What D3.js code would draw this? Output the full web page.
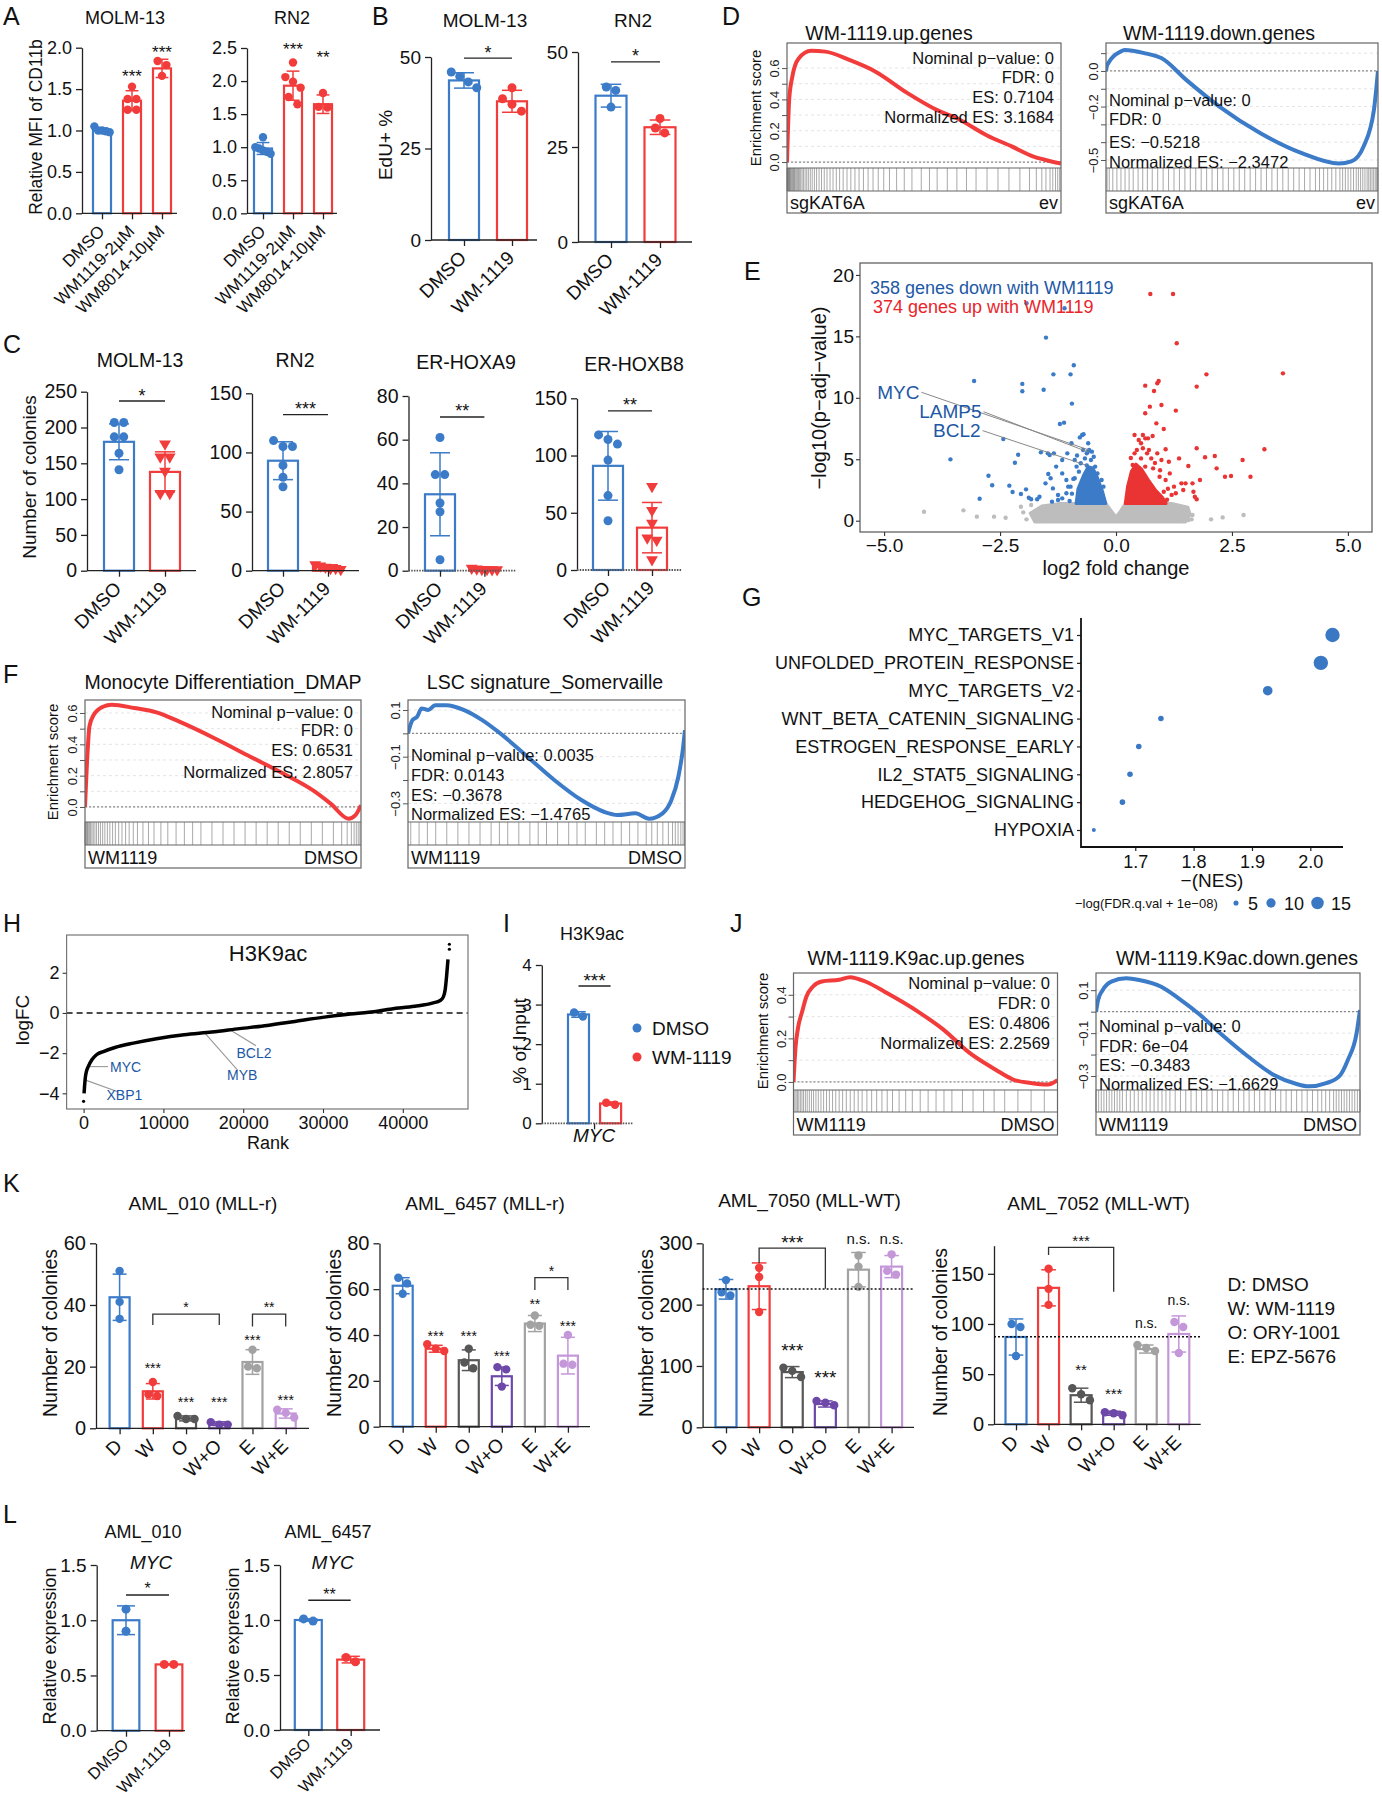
<!DOCTYPE html>
<html>
<head>
<meta charset="utf-8">
<script src="https://cdn.jsdelivr.net/npm/d3@7"></script>
<style>
  body { margin: 0; background: #fff; }
  svg { display: block; }
</style>
</head>
<body>
<script>
// ---------------- data ----------------
// A: relative MFI of CD11b
var aCats = ["DMSO", "WM1119-2µM", "WM8014-10µM"];
var aMolmMean = [1.0, 1.36, 1.75], aMolmSd = [0.03, 0.12, 0.11];
var aMolmPts = [[1.05, 1.0, 0.99, 0.98, 1.0], [1.53, 1.38, 1.38, 1.25, 1.25], [1.84, 1.79, 1.66]];
var aRn2Mean = [0.98, 1.93, 1.65], aRn2Sd = [0.09, 0.22, 0.14];
var aRn2Pts = [[1.15, 1.0, 0.98, 0.95, 0.93, 0.9], [2.28, 2.06, 1.99, 1.9, 1.76, 1.65], [1.82, 1.61, 1.6]];

// B: EdU+ %
var dwCats = ["DMSO", "WM-1119"];
var bMolmMean = [43.6, 37.9], bMolmSd = [2.1, 3.0], bMolmPts = [[45.9, 44.7, 43.2, 41.6], [41.6, 38.6, 37.1, 35.2]];
var bRn2Mean = [38.5, 30.2], bRn2Sd = [3.0, 1.9], bRn2Pts = [[40.8, 39.9, 35.5], [32.5, 30, 28.7]];

// C: colonies
var cMolmMean = [180, 138], cMolmSd = [25, 28], cMolmPts = [[207, 207, 187, 187, 164, 141], [177, 159, 159, 139, 108, 108]];
var cRn2Mean = [93, 3], cRn2Sd = [16, 2], cRn2Pts = [[110, 105, 105, 89, 79, 71], [5, 4, 3, 2, 2, 1]];
var cA9Mean = [35, 1], cA9Sd = [19, 0.5], cA9Pts = [[61, 44, 44, 31, 27, 5], [1.2, 0.8, 0.6, 0.6, 0.5, 0.5]];
var cB8Mean = [91, 37], cB8Sd = [30, 22], cB8Pts = [[118, 114, 110, 96, 65, 43], [73, 52, 41, 28, 26, 9]];

// D / F / J: GSEA running enrichment scores (rank fraction, ES) and hits
var dUpX = [0, 0.008, 0.02, 0.042, 0.088, 0.14, 0.23, 0.32, 0.44, 0.55, 0.62, 0.73, 0.82, 0.9, 0.94, 1.0];
var dUpES = [0, 0.40, 0.55, 0.66, 0.71, 0.705, 0.65, 0.58, 0.44, 0.33, 0.28, 0.17, 0.10, 0.035, 0.015, -0.01];
var dDnX = [0, 0.0045, 0.053, 0.068, 0.144, 0.205, 0.295, 0.417, 0.568, 0.72, 0.856, 0.902, 0.947, 0.985, 1.0];
var dDnES = [0, 0.034, 0.108, 0.118, 0.099, 0.071, -0.05, -0.2, -0.35, -0.462, -0.52, -0.508, -0.424, -0.219, 0];
var fLX = [0, 0.0097, 0.016, 0.032, 0.065, 0.097, 0.178, 0.259, 0.34, 0.469, 0.599, 0.728, 0.825, 0.89, 0.955, 0.979, 1.0];
var fLES = [0, 0.364, 0.514, 0.589, 0.64, 0.653, 0.632, 0.604, 0.546, 0.439, 0.321, 0.204, 0.107, 0.021, -0.075, -0.054, 0.011];
var fRX = [0, 0.016, 0.033, 0.049, 0.073, 0.098, 0.138, 0.203, 0.268, 0.333, 0.431, 0.528, 0.626, 0.707, 0.756, 0.821, 0.87, 0.919, 0.951, 0.976, 0.992, 1.0];
var fRES = [0, 0.057, 0.071, 0.107, 0.1, 0.121, 0.121, 0.1, 0.057, 0, -0.1, -0.2, -0.286, -0.336, -0.35, -0.343, -0.366, -0.343, -0.286, -0.186, -0.071, 0.014];
var jLX = [0, 0.008, 0.016, 0.033, 0.049, 0.074, 0.107, 0.173, 0.214, 0.272, 0.354, 0.47, 0.568, 0.667, 0.766, 0.832, 0.898, 0.964, 1.0];
var jLES = [0, 0.163, 0.24, 0.324, 0.392, 0.438, 0.461, 0.469, 0.481, 0.461, 0.408, 0.324, 0.24, 0.133, 0.056, 0.011, -0.005, -0.012, 0.008];
var jRX = [0, 0.008, 0.025, 0.058, 0.115, 0.164, 0.247, 0.313, 0.395, 0.477, 0.576, 0.674, 0.757, 0.806, 0.872, 0.921, 0.954, 0.987, 1.0];
var jRES = [0, 0.054, 0.1, 0.14, 0.155, 0.147, 0.116, 0.062, -0.016, -0.108, -0.209, -0.295, -0.336, -0.348, -0.333, -0.302, -0.225, -0.101, 0.008];

var dUpHits = [0,.002,.004,.006,.008,.01,.012,.015,.018,.021,.024,.027,.03,.034,.038,.042,.046,.05,.055,.06,.066,.072,.078,.085,.092,.1,.108,.117,.126,.136,.146,.157,.168,.18,.192,.205,.219,.233,.248,.263,.279,.296,.314,.333,.353,.374,.4,.428,.456,.49,.52,.548,.585,.62,.655,.69,.73,.77,.81,.85,.885,.91,.93,.945,.96,.97,.98,.988,.995];
var dDnHits = [.004,.012,.025,.04,.055,.07,.085,.1,.118,.135,.152,.17,.19,.21,.23,.25,.27,.29,.31,.33,.35,.37,.39,.41,.43,.45,.47,.49,.51,.53,.55,.57,.59,.61,.63,.65,.67,.69,.71,.73,.75,.77,.785,.8,.815,.83,.845,.86,.87,.88,.89,.9,.91,.92,.928,.936,.944,.952,.96,.966,.972,.978,.984,.99,.995,.999];
var fLHits = [0,.003,.006,.009,.012,.016,.02,.025,.03,.036,.042,.049,.056,.064,.072,.081,.09,.1,.11,.122,.134,.147,.16,.175,.19,.21,.23,.25,.275,.3,.33,.36,.39,.42,.46,.5,.54,.58,.62,.66,.7,.74,.78,.82,.86,.9,.93,.95,.965,.975,.983,.99,.996];
var fRHits = [.01,.04,.07,.1,.14,.18,.22,.26,.3,.33,.36,.4,.44,.47,.5,.54,.58,.61,.64,.68,.71,.74,.77,.8,.83,.86,.88,.9,.92,.94,.955,.965,.975,.985,.993,.998];
var jLHits = [0,.005,.01,.015,.02,.026,.032,.038,.045,.052,.06,.068,.076,.085,.094,.104,.114,.125,.136,.148,.16,.173,.186,.2,.215,.23,.245,.26,.278,.296,.315,.335,.355,.375,.4,.425,.45,.48,.51,.54,.57,.6,.64,.68,.72,.76,.8,.85,.9,.95];
var jRHits = [0,.01,.02,.03,.04,.05,.06,.07,.08,.09,.1,.115,.13,.145,.16,.175,.19,.205,.22,.235,.25,.265,.28,.3,.32,.34,.36,.38,.4,.42,.44,.46,.48,.5,.52,.54,.56,.58,.6,.62,.64,.66,.68,.7,.72,.74,.76,.78,.8,.82,.84,.855,.87,.885,.9,.91,.92,.93,.94,.95,.96,.97,.98,.99,1];

// E: volcano (log2FC, -log10 padj)
var eBlue = [[-3.57,4.99],[-3.06,11.37],[-2.94,1.79],[-2.75,3.66],[-2.67,2.88],[-2.43,6.65],[-2.30,2.85],[-2.23,2.33],[-2.18,4.72],[-2.11,5.37],[-2.05,2.17],[-2.02,10.53],[-2.02,11.13],[-1.94,2.55],[-1.93,17.69],[-1.88,1.87],[-1.83,1.74],[-1.56,10.66],[-1.51,14.90],[-1.62,5.56],[-1.47,5.48],[-1.43,5.35],[-1.46,3.80],[-1.41,3.45],[-1.36,2.63],[-1.34,5.48],[-1.25,2.09],[-1.21,7.87],[-1.12,7.98],[-1.11,17.29],[-1.05,5.48],[-0.98,11.91],[-1.35,11.91],[-0.95,9.53],[-0.91,12.65],[-0.96,6.30],[-0.78,6.78],[-0.73,6.97],[-0.70,7.03],[-1.16,3.85],[-1.07,3.31],[-1.03,2.77],[-0.89,4.94],[-0.85,4.40],[-1.16,4.94],[-1.29,4.40],[-1.52,3.04],[-1.65,1.95],[-1.70,1.74],[-0.58,5.75],[-0.61,5.6],[-0.63,4.5],[-0.95,2.2],[-1.0,1.6],[-0.92,3.4],
  [-0.71,5.75],[-0.63,5.48],[-0.52,5.62],[-0.67,5.07],[-0.54,4.94],[-0.76,4.67],[-0.45,4.40],[-0.80,3.99],[-0.40,3.85],[-0.89,3.45],[-0.31,3.31],[-0.98,2.77],[-0.27,2.77],[-1.07,2.23],[-1.16,1.82],[-1.25,1.68],[-1.38,1.55],[-0.48,5.2],[-0.6,6.3],[-0.84,5.3]];
var eRed = [[0.74,18.45],[1.23,18.45],[1.31,14.44],[1.95,11.91],[3.60,11.99],[0.63,10.99],[0.82,10.56],[0.92,11.37],[0.89,11.18],[1.74,10.91],[0.98,9.42],[0.73,9.28],[1.29,8.96],[0.63,8.74],[0.87,7.92],[1.03,7.46],[0.79,6.89],[0.58,6.97],[0.69,6.70],[1.74,5.89],[1.07,5.81],[3.20,5.81],[1.36,5.07],[1.92,5.16],[2.13,5.26],[2.73,4.94],[2.17,4.26],[1.56,4.45],[2.35,3.58],[2.48,3.64],[2.90,3.58],[1.81,3.31],[1.41,3.04],[1.50,3.04],[1.65,3.04],[1.67,2.36],[1.70,1.95],[1.74,1.74],[1.45,2.50],[1.25,2.77],[1.29,2.23],[1.16,3.85],[1.14,4.80],[0.98,4.94],[0.89,5.48],[0.54,6.30],[0.71,5.75],[1.2,2.1],[1.1,1.7],
  [0.40,6.97],[0.49,6.57],[0.45,5.75],[0.40,5.48],[0.54,5.07],[0.63,6.70],[0.67,5.48],[0.76,5.07],[0.36,4.53],[0.49,4.26],[0.63,4.40],[0.80,4.26],[0.94,3.58],[1.07,3.31],[1.03,2.36],[0.32,5.1],[0.58,5.9],[0.84,4.7],[0.95,4.1],[1.12,2.6]];
var eGray = [[-4.14,0.73],[-3.29,0.84],[-3.0,0.33],[-2.63,0.33],[-2.38,0.24],[-2.0,0.68],[-1.93,0.11],[-1.73,0.11],[-1.52,0.11],[-1.31,0.11],[1.41,0.19],[1.56,0.05],[1.65,0.46],[2.05,0.11],[2.30,0.27],[2.75,0.46],[1.63,0.11],[-2.05,1.14],[-1.83,1.28]];
var eGrayCore = [[-1.75,-0.1],[-1.85,0.6],[-1.6,1.2],[-1.2,1.4],[-0.22,1.4],[-0.1,0.8],[0,0.3],[0.1,0.8],[0.2,1.4],[1.2,1.4],[1.55,1.1],[1.6,0.5],[1.5,-0.1]];
var eBlueCore = [[-0.86,1.4],[-0.82,2.6],[-0.7,3.7],[-0.6,4.4],[-0.5,4.3],[-0.4,3.5],[-0.3,2.5],[-0.22,1.4]];
var eRedCore = [[0.2,1.4],[0.25,2.8],[0.33,4.0],[0.43,4.6],[0.55,4.2],[0.7,3.3],[0.85,2.5],[1.0,1.9],[1.08,1.4]];

// G: hallmark NES dot plot
var gCats = ["MYC_TARGETS_V1", "UNFOLDED_PROTEIN_RESPONSE", "MYC_TARGETS_V2", "WNT_BETA_CATENIN_SIGNALING",
  "ESTROGEN_RESPONSE_EARLY", "IL2_STAT5_SIGNALING", "HEDGEHOG_SIGNALING", "HYPOXIA"];
var gNES = [2.038, 2.018, 1.927, 1.744, 1.706, 1.691, 1.678, 1.629];
var gFDR = [18.4, 18.4, 10.5, 5.5, 5.5, 5.5, 5.5, 4.0];
var gLegend = [5, 10, 15];

// H: ranked H3K9ac logFC
var hRank = [58,116,231,347,578,1040,1618,2485,3930,6242,9132,12600,16068,19536,23004,26472,29940,33408,35720,38610,41500,43812,44679,45084,45315,45489,45662];
var hLogFC = [-4.0,-3.67,-3.17,-2.92,-2.67,-2.33,-2.08,-1.92,-1.72,-1.5,-1.28,-1.08,-0.95,-0.78,-0.62,-0.42,-0.22,-0.05,0.03,0.2,0.33,0.5,0.62,0.8,1.17,1.83,2.67];
var hOutRank = [0, 45838, 45838], hOutFC = [-4.4, 3.17, 3.42];
var hGenes = ["MYC", "XBP1", "MYB", "BCL2"];
var hGeneRank = [578, 173, 15200, 18380], hGeneFC = [-2.67, -3.33, -1.0, -0.85];

// I: ChIP-qPCR
var iMean = [2.75, 0.5], iSd = [0.07, 0.04], iPts = [[2.7, 2.8], [0.47, 0.52]];

// K: primary AML colonies
var kCats = ["D", "W", "O", "W+O", "E", "W+E"];
var k010Mean = [42.5, 12, 3.2, 1.5, 21.5, 4.8], k010Sd = [7.5, 2.5, 0.8, 0.6, 4, 1.5];
var k010Pts = [[51, 41, 35.5], [15, 11, 10.5], [4, 3, 3], [2, 1.2, 1.2], [25.5, 20, 19.5], [6, 5, 3.5]];
var k6457Mean = [61.5, 34, 29, 22, 45, 31], k6457Sd = [3.5, 1.5, 4.5, 4, 3.5, 8];
var k6457Pts = [[65, 62.5, 58], [36, 34, 33], [34, 28, 25.5], [26, 25, 17.5], [48.5, 44, 44.5], [40, 27, 27.5]];
var k7050Mean = [225, 230, 90, 38, 257, 262], k7050Sd = [16, 38, 9, 5, 28, 18];
var k7050Pts = [[240, 220, 215], [260, 245, 188], [97, 92, 82], [43, 40, 36], [280, 262, 229], [282, 255, 249]];
var k7052Mean = [87, 136, 29, 11, 75, 90], k7052Sd = [18, 18, 7, 2, 4, 18];
var k7052Pts = [[100, 97, 68], [155, 135, 119], [36, 30, 24], [12, 11, 9], [79, 76, 73], [102, 97, 71]];
var kLegend = ["D: DMSO", "W: WM-1119", "O: ORY-1001", "E: EPZ-5676"];

// L: MYC qPCR
var l010Mean = [1.0, 0.6], l010Sd = [0.13, 0.005], l010Pts = [[1.1, 0.9], [0.6, 0.6]];
var l6457Mean = [1.0, 0.64], l6457Sd = [0.01, 0.03], l6457Pts = [[0.99, 1.01], [0.62, 0.66]];

// ---------------- drawing ----------------
var FONT = '"Liberation Sans", Arial, Helvetica, sans-serif';
var BLUE = "#3b7bc8", RED = "#f23c3c", DGRAY = "#575757", PURPLE = "#6d48a8", LGRAY = "#a2a2a2", LPURPLE = "#c497d9";
var DARKBLUE = "#1d58a6";
var MINUS = "\u2212";

var svg = d3.select("body").append("svg")
  .attr("width", 1382).attr("height", 1800).attr("font-family", FONT);
svg.append("rect").attr("width", 1382).attr("height", 1800).attr("fill", "#fff");

function txt(s, x, y, size, o) {
  o = o || {};
  var t = svg.append("text").attr("x", x).attr("y", y).attr("font-size", size)
    .attr("fill", o.fill || "#111").attr("text-anchor", o.anchor || "start").text(s);
  if (o.italic) t.attr("font-style", "italic");
  return t;
}
function ylab(s, x, cy, size) {
  svg.append("text").attr("transform", "translate(" + x + "," + cy + ") rotate(-90)")
    .attr("text-anchor", "middle").attr("font-size", size).attr("fill", "#111").text(s);
}
function styleAxis(a, fs, col, w) {
  a.attr("font-family", FONT).attr("font-size", fs);
  a.select(".domain").attr("stroke", col || "#222").attr("stroke-width", w || 1.3);
  a.selectAll(".tick line").attr("stroke", col || "#222").attr("stroke-width", w || 1.3);
  a.selectAll(".tick text").attr("fill", "#111");
}
function starBase(s, size) { return s.indexOf("*") >= 0 ? 0.585 * size : 0.28 * size; }

// points spread like a Prism scatter: near-equal values go side by side
function spread(vals, y, r, bw) {
  var idx = vals.map(function(v, i) { return i; }).sort(function(a, b) { return vals[b] - vals[a]; });
  var off = [], grp = [];
  function flush() {
    var n = grp.length, step = n > 1 ? Math.min(2.1 * r, bw * 0.85 / (n - 1)) : 0;
    grp.forEach(function(k, j) { off[k] = (j - (n - 1) / 2) * step; });
    grp = [];
  }
  idx.forEach(function(i) {
    if (grp.length && Math.abs(y(vals[grp[grp.length - 1]]) - y(vals[i])) >= 1.8 * r) flush();
    grp.push(i);
  });
  flush();
  return off;
}
function drawPt(g, shape, cx, cy, r, col) {
  if (shape === "tri") {
    g.append("path").attr("d", d3.symbol().type(d3.symbolTriangle).size(r * r * 3)())
      .attr("transform", "translate(" + cx + "," + cy + ") rotate(180)").attr("fill", col);
  } else {
    g.append("circle").attr("cx", cx).attr("cy", cy).attr("r", r).attr("fill", col);
  }
}

function bars(o) {
  var g = svg.append("g");
  var y = d3.scaleLinear().domain([0, o.max]).range([o.bot, o.top]);
  var x = d3.scalePoint().domain(o.cats).range([o.c0, o.c1]);
  var r = o.r || 4.3, fs = o.fs || 18, sfs = o.sfs || 16;

  o.cats.forEach(function(c, i) {
    var col = o.colors[i], cx = x(c), m = o.mean[i], s = o.sd[i], cap = o.bw * 0.3 + 1;
    g.append("rect").attr("x", cx - o.bw / 2).attr("y", y(m)).attr("width", o.bw)
      .attr("height", o.bot - y(m)).attr("fill", "none").attr("stroke", col).attr("stroke-width", 2.2);
    g.append("line").attr("x1", cx).attr("x2", cx).attr("y1", y(Math.max(0, m - s))).attr("y2", y(m + s))
      .attr("stroke", col).attr("stroke-width", 1.5);
    [m - s, m + s].forEach(function(e) {
      if (e > 0) g.append("line").attr("x1", cx - cap).attr("x2", cx + cap).attr("y1", y(e)).attr("y2", y(e))
        .attr("stroke", col).attr("stroke-width", 1.5);
    });
    var offs = spread(o.pts[i], y, r, o.bw);
    o.pts[i].forEach(function(v, k) {
      drawPt(g, o.shapes ? o.shapes[i] : "circle", cx + offs[k], y(v), r, col);
    });
  });

  var ya = g.append("g").attr("transform", "translate(" + o.ax + ",0)")
    .call(d3.axisLeft(y).tickValues(o.ticks).tickFormat(o.fmt || d3.format("d"))
      .tickSize(6).tickSizeOuter(0).tickPadding(4));
  styleAxis(ya, fs);

  var xa = g.append("g").attr("transform", "translate(0," + o.bot + ")")
    .call(d3.axisBottom(x).tickSize(6).tickSizeOuter(0));
  xa.select(".domain").remove();
  styleAxis(xa, o.xfs || fs);
  if (o.noXLabels) {
    xa.selectAll(".tick").remove();
    var mid = (x(o.cats[0]) + x(o.cats[o.cats.length - 1])) / 2;
    g.append("line").attr("x1", mid).attr("x2", mid).attr("y1", o.bot).attr("y2", o.bot + 6)
      .attr("stroke", "#222").attr("stroke-width", 1.3);
  } else {
    xa.selectAll(".tick text").attr("x", 0).attr("y", 0).attr("dy", 0)
      .attr("text-anchor", "end").attr("transform", "translate(3," + (o.xoff || 19) + ") rotate(-45)");
  }
  g.append("line").attr("x1", o.ax).attr("x2", o.axEnd).attr("y1", o.bot).attr("y2", o.bot)
    .attr("stroke", o.dotBase ? "#555" : "#222").attr("stroke-width", o.dotBase ? 1.8 : 1.3)
    .attr("stroke-dasharray", o.dotBase ? "1.5,1.2" : null);

  if (o.ref !== undefined) {
    g.append("line").attr("x1", o.ax).attr("x2", o.axEnd).attr("y1", y(o.ref)).attr("y2", y(o.ref))
      .attr("stroke", "#111").attr("stroke-width", 1.6).attr("stroke-dasharray", "2,2");
  }
  (o.stars || []).forEach(function(s) {
    var size = s[3] || sfs;
    g.append("text").attr("x", x(o.cats[s[0]])).attr("y", y(s[1]) + starBase(s[2], size))
      .attr("text-anchor", "middle").attr("font-size", size).attr("fill", "#111").text(s[2]);
  });
  (o.sig || []).forEach(function(s) {
    var yy = y(s[2]);
    g.append("line").attr("x1", x(o.cats[s[0]])).attr("x2", x(o.cats[s[1]])).attr("y1", yy).attr("y2", yy)
      .attr("stroke", "#222").attr("stroke-width", 1.4);
    g.append("text").attr("x", (x(o.cats[s[0]]) + x(o.cats[s[1]])) / 2).attr("y", yy - 10 + starBase(s[3], sfs))
      .attr("text-anchor", "middle").attr("font-size", sfs).attr("fill", "#111").text(s[3]);
  });
  (o.brk || []).forEach(function(b) {
    var xa1 = x(o.cats[b[0]]), xb = x(o.cats[b[1]]), yt = y(b[2]);
    g.append("path").attr("d", "M" + xa1 + "," + y(b[3]) + "V" + yt + "H" + xb + "V" + y(b[4]))
      .attr("fill", "none").attr("stroke", "#333").attr("stroke-width", 1.3);
    var size = b[6] || sfs;
    g.append("text").attr("x", (xa1 + xb) / 2).attr("y", yt - 10 + starBase(b[5], size))
      .attr("text-anchor", "middle").attr("font-size", size).attr("fill", "#111").text(b[5]);
  });
  if (o.title) txt(o.title, o.tx, o.ty, o.tfs || 18, { anchor: "middle" });
  if (o.ylab) ylab(o.ylab, o.yx, o.ycy, o.yfs || 18);
  return { x: x, y: y };
}

function gsea(o) {
  var g = svg.append("g");
  var x = d3.scaleLinear().domain([0, 1]).range([o.x0, o.x1]);
  var y = d3.scaleLinear().domain(o.dom).range([o.yEs, o.yTop]);
  var f = d3.format(".1f");
  var id = "clip" + Math.round(o.x0) + "_" + Math.round(o.yTop);
  g.append("clipPath").attr("id", id).append("rect")
    .attr("x", o.x0).attr("y", o.yTop).attr("width", o.x1 - o.x0).attr("height", o.yEs - o.yTop);

  g.selectAll(".grid").data(o.ticks).enter().append("line")
    .attr("x1", o.x0).attr("x2", o.x1).attr("y1", function(d) { return y(d); }).attr("y2", function(d) { return y(d); })
    .attr("stroke", "#e4e4e4").attr("stroke-dasharray", "3,3");
  g.append("line").attr("x1", o.x0).attr("x2", o.x1).attr("y1", y(0)).attr("y2", y(0))
    .attr("stroke", "#8a8a8a").attr("stroke-width", 1.2).attr("stroke-dasharray", "2,2");

  g.append("path").datum(d3.zip(o.rx, o.es)).attr("clip-path", "url(#" + id + ")")
    .attr("d", d3.line().x(function(d) { return x(d[0]); }).y(function(d) { return y(d[1]); }).curve(d3.curveMonotoneX))
    .attr("fill", "none").attr("stroke", o.color).attr("stroke-width", 4).attr("stroke-linejoin", "round");

  g.selectAll(".hit").data(o.hits).enter().append("line")
    .attr("x1", function(d) { return x(d); }).attr("x2", function(d) { return x(d); })
    .attr("y1", o.yEs).attr("y2", o.yStrip).attr("stroke", "#333").attr("stroke-opacity", 0.42).attr("stroke-width", 1);

  g.append("rect").attr("x", o.x0).attr("y", o.yTop).attr("width", o.x1 - o.x0).attr("height", o.yBot - o.yTop)
    .attr("fill", "none").attr("stroke", "#666").attr("stroke-width", 1.2);
  [o.yEs, o.yStrip].forEach(function(v) {
    g.append("line").attr("x1", o.x0).attr("x2", o.x1).attr("y1", v).attr("y2", v).attr("stroke", "#666").attr("stroke-width", 1.2);
  });

  var ax = g.append("g").attr("transform", "translate(" + o.x0 + ",0)")
    .call(d3.axisLeft(y).tickValues(o.ticks).tickSize(5).tickSizeOuter(0)
      .tickFormat(function(d) { return o.show.some(function(s) { return Math.abs(s - d) < 1e-6; }) ? f(d) : ""; }));
  ax.select(".domain").remove();
  styleAxis(ax, 13, "#555", 1);
  ax.selectAll(".tick text").attr("x", 0).attr("y", -8).attr("dy", 0)
    .attr("text-anchor", "middle").attr("transform", "rotate(-90)").attr("fill", "#222");

  txt(o.title, o.tx, o.ty, 19.5, { anchor: "middle" });
  o.lines.forEach(function(s, i) {
    txt(s, o.lx, o.ly[i], 16.5, { anchor: o.align });
  });
  txt(o.labL, o.x0 + 3, o.yBot - 4, 18);
  txt(o.labR, o.x1 - 3, o.yBot - 4, 18, { anchor: "end" });
  if (o.ylab) ylab(o.ylab, o.yx, o.ycy, 15);
}

// panel letters
[["A", 3, 25], ["B", 372, 25], ["D", 722, 25], ["C", 3, 353], ["E", 744, 280], ["F", 3, 683],
 ["G", 742, 606], ["H", 3, 932], ["I", 503, 932], ["J", 730, 932], ["K", 3, 1192], ["L", 3, 1523]]
  .forEach(function(p) { txt(p[0], p[1], p[2], 25); });

// ---- A ----
bars({ cats: aCats, mean: aMolmMean, sd: aMolmSd, pts: aMolmPts, colors: [BLUE, RED, RED],
  ax: 82, axEnd: 177, c0: 102, c1: 162, top: 47.7, bot: 213.3, max: 2.0, ticks: [0, 0.5, 1, 1.5, 2],
  fmt: d3.format(".1f"), bw: 18, r: 4.2, fs: 18, xfs: 17, sfs: 17,
  stars: [[1, 1.71, "***"], [2, 2.0, "***"]],
  title: "MOLM-13", tx: 125, ty: 24, ylab: "Relative MFI of CD11b", yx: 42, ycy: 127, yfs: 17.5 });
bars({ cats: aCats, mean: aRn2Mean, sd: aRn2Sd, pts: aRn2Pts, colors: [BLUE, RED, RED],
  ax: 247, axEnd: 337, c0: 263, c1: 323, top: 48, bot: 213.3, max: 2.5, ticks: [0, 0.5, 1, 1.5, 2, 2.5],
  fmt: d3.format(".1f"), bw: 18, r: 4.2, fs: 18, xfs: 17, sfs: 17,
  stars: [[1, 2.54, "***"], [2, 2.43, "**"]],
  title: "RN2", tx: 292, ty: 24 });

// ---- B ----
bars({ cats: dwCats, mean: bMolmMean, sd: bMolmSd, pts: bMolmPts, colors: [BLUE, RED],
  ax: 431, axEnd: 537, c0: 464, c1: 512, top: 57, bot: 240, max: 50, ticks: [0, 25, 50],
  bw: 30, r: 4.5, fs: 19, sfs: 18, sig: [[0, 1, 49.7, "*"]],
  title: "MOLM-13", tx: 485, ty: 27, tfs: 19, ylab: "EdU+ %", yx: 392, ycy: 145, yfs: 19 });
bars({ cats: dwCats, mean: bRn2Mean, sd: bRn2Sd, pts: bRn2Pts, colors: [BLUE, RED],
  ax: 578, axEnd: 692, c0: 611, c1: 660, top: 52, bot: 242, max: 50, ticks: [0, 25, 50],
  bw: 31, r: 4.5, fs: 19, sfs: 18, sig: [[0, 1, 47.4, "*"]],
  title: "RN2", tx: 633, ty: 27, tfs: 19 });

// ---- C ----
var cCommon = { cats: dwCats, colors: [BLUE, RED], shapes: ["circle", "tri"], bw: 30, r: 4.5, fs: 19.5, xfs: 19, sfs: 18, tfs: 19.5 };
function withC(o) { return Object.assign({}, cCommon, o); }
bars(withC({ mean: cMolmMean, sd: cMolmSd, pts: cMolmPts, ax: 87, axEnd: 196, c0: 119, c1: 165,
  top: 391.7, bot: 570.7, max: 250, ticks: [0, 50, 100, 150, 200, 250], sig: [[0, 1, 237, "*"]],
  title: "MOLM-13", tx: 140, ty: 367, ylab: "Number of colonies", yx: 36, ycy: 477, yfs: 19 }));
bars(withC({ mean: cRn2Mean, sd: cRn2Sd, pts: cRn2Pts, ax: 252, axEnd: 359, c0: 283, c1: 328,
  top: 393.3, bot: 570.7, max: 150, ticks: [0, 50, 100, 150], sig: [[0, 1, 132, "***"]],
  title: "RN2", tx: 295, ty: 367 }));
bars(withC({ mean: cA9Mean, sd: cA9Sd, pts: cA9Pts, ax: 408.5, axEnd: 515.6, c0: 440, c1: 484.4,
  top: 396, bot: 570.7, max: 80, ticks: [0, 20, 40, 60, 80], sig: [[0, 1, 70.4, "**"]], dotBase: true,
  title: "ER-HOXA9", tx: 466, ty: 369 }));
bars(withC({ mean: cB8Mean, sd: cB8Sd, pts: cB8Pts, ax: 577, axEnd: 682, c0: 608, c1: 652,
  top: 398.3, bot: 570, max: 150, ticks: [0, 50, 100, 150], sig: [[0, 1, 139, "**"]], dotBase: true,
  title: "ER-HOXB8", tx: 634, ty: 371 }));

// ---- D ----
var nomP = "Nominal p" + MINUS + "value: ";
gsea({ x0: 787, x1: 1061, yTop: 43, yEs: 168, yStrip: 191, yBot: 213, dom: [-0.038, 0.76],
  ticks: [0, 0.1, 0.2, 0.3, 0.4, 0.5, 0.6], show: [0, 0.2, 0.4, 0.6], rx: dUpX, es: dUpES, hits: dUpHits, color: RED,
  title: "WM-1119.up.genes", tx: 889, ty: 40,
  lines: [nomP + "0", "FDR: 0", "ES: 0.7104", "Normalized ES: 3.1684"], align: "end", lx: 1054, ly: [64, 83, 103, 123],
  labL: "sgKAT6A", labR: "ev", ylab: "Enrichment score", yx: 761, ycy: 108 });
gsea({ x0: 1106, x1: 1378, yTop: 43, yEs: 168, yStrip: 191, yBot: 213, dom: [-0.545, 0.157],
  ticks: [0.1, 0, -0.1, -0.2, -0.3, -0.4, -0.5], show: [0, -0.2, -0.5], rx: dDnX, es: dDnES, hits: dDnHits, color: BLUE,
  title: "WM-1119.down.genes", tx: 1219, ty: 40,
  lines: [nomP + "0", "FDR: 0", "ES: " + MINUS + "0.5218", "Normalized ES: " + MINUS + "2.3472"], align: "start", lx: 1109, ly: [106, 125, 148, 168],
  labL: "sgKAT6A", labR: "ev" });

// ---- E ----
(function() {
  var g = svg.append("g");
  var x = d3.scaleLinear().domain([-5.52, 5.52]).range([860, 1372]);
  var y = d3.scaleLinear().domain([-0.92, 20.97]).range([532, 263]);
  var line = d3.line().x(function(d) { return x(d[0]); }).y(function(d) { return y(d[1]); }).curve(d3.curveLinearClosed);
  [[eGrayCore, "#bdbdbd"], [eBlueCore, BLUE], [eRedCore, "#ea3434"]].forEach(function(p) {
    g.append("path").datum(p[0]).attr("d", line).attr("fill", p[1]).attr("stroke", p[1])
      .attr("stroke-width", 3).attr("stroke-linejoin", "round");
  });
  [[eGray, "#bdbdbd"], [eBlue, BLUE], [eRed, "#ea3434"]].forEach(function(p) {
    g.selectAll(null).data(p[0]).enter().append("circle")
      .attr("cx", function(d) { return x(d[0]); }).attr("cy", function(d) { return y(d[1]); })
      .attr("r", 2.2).attr("fill", p[1]);
  });
  g.append("rect").attr("x", 860).attr("y", 263).attr("width", 512).attr("height", 269)
    .attr("fill", "none").attr("stroke", "#555").attr("stroke-width", 1.2);
  var ya = g.append("g").attr("transform", "translate(860,0)")
    .call(d3.axisLeft(y).tickValues([0, 5, 10, 15, 20]).tickSize(4).tickPadding(2).tickFormat(d3.format("d")));
  ya.select(".domain").remove(); styleAxis(ya, 19, "#333", 1.1);
  var xa = g.append("g").attr("transform", "translate(0,532)")
    .call(d3.axisBottom(x).tickValues([-5, -2.5, 0, 2.5, 5]).tickSize(4).tickPadding(3).tickFormat(d3.format(".1f")));
  xa.select(".domain").remove(); styleAxis(xa, 19, "#333", 1.1);
  txt("log2 fold change", 1116, 575, 20, { anchor: "middle" });
  ylab(MINUS + "log10(p" + MINUS + "adj" + MINUS + "value)", 826, 398, 20);
  txt("358 genes down with WM1119", 870, 294, 18, { fill: DARKBLUE });
  txt("374 genes up with WM1119", 873, 313, 18, { fill: "#e8252b" });
  // labelled genes: text anchor (data units) and the point each line points to
  var labs = [
    { s: "MYC", tx: -4.24, ty: 10.45, px: -0.58, py: 5.75 },
    { s: "LAMP5", tx: -2.9, ty: 8.87, px: -0.61, py: 5.6 },
    { s: "BCL2", tx: -2.92, ty: 7.33, px: -0.63, py: 4.5 }
  ];
  labs.forEach(function(l) {
    g.append("line").attr("x1", x(l.tx) + 2).attr("y1", y(l.ty)).attr("x2", x(l.px)).attr("y2", y(l.py))
      .attr("stroke", "#888").attr("stroke-width", 1);
    txt(l.s, x(l.tx), y(l.ty) + 6.5, 19, { anchor: "end", fill: DARKBLUE });
  });
})();

// ---- F ----
gsea({ x0: 85, x1: 361, yTop: 700, yEs: 822, yStrip: 845, yBot: 868, dom: [-0.096, 0.683],
  ticks: [0, 0.1, 0.2, 0.3, 0.4, 0.5, 0.6], show: [0, 0.2, 0.4, 0.6], rx: fLX, es: fLES, hits: fLHits, color: RED,
  title: "Monocyte Differentiation_DMAP", tx: 223, ty: 689,
  lines: [nomP + "0", "FDR: 0", "ES: 0.6531", "Normalized ES: 2.8057"], align: "end", lx: 353, ly: [718, 736, 756, 778],
  labL: "WM1119", labR: "DMSO", ylab: "Enrichment score", yx: 58, ycy: 762 });
gsea({ x0: 408, x1: 685, yTop: 700, yEs: 822, yStrip: 845, yBot: 868, dom: [-0.38, 0.143],
  ticks: [0.1, 0, -0.1, -0.2, -0.3], show: [0.1, -0.1, -0.3], rx: fRX, es: fRES, hits: fRHits, color: BLUE,
  title: "LSC signature_Somervaille", tx: 545, ty: 689,
  lines: [nomP + "0.0035", "FDR: 0.0143", "ES: " + MINUS + "0.3678", "Normalized ES: " + MINUS + "1.4765"], align: "start", lx: 411, ly: [761, 781, 801, 820],
  labL: "WM1119", labR: "DMSO" });

// ---- G ----
(function() {
  var g = svg.append("g");
  var x = d3.scaleLinear().domain([1.607, 2.056]).range([1081, 1343]);
  var y = d3.scalePoint().domain(gCats).range([635, 830]);
  var size = d3.scaleSqrt().domain([4, 18.4]).range([2, 7.2]);
  g.selectAll(null).data(gCats).enter().append("circle")
    .attr("cx", function(d, i) { return x(gNES[i]); }).attr("cy", function(d) { return y(d); })
    .attr("r", function(d, i) { return size(gFDR[i]); }).attr("fill", "#3a78c4");
  var ya = g.append("g").attr("transform", "translate(1081,0)").call(d3.axisLeft(y).tickSize(4).tickPadding(3));
  ya.select(".domain").remove(); styleAxis(ya, 18, "#222", 1.2);
  var xa = g.append("g").attr("transform", "translate(0,847)")
    .call(d3.axisBottom(x).tickValues([1.7, 1.8, 1.9, 2.0]).tickSize(4).tickPadding(4).tickFormat(d3.format(".1f")));
  xa.select(".domain").remove(); styleAxis(xa, 18, "#222", 1.2);
  g.append("path").attr("d", "M1081,618V847H1343").attr("fill", "none").attr("stroke", "#111").attr("stroke-width", 1.8);
  txt(MINUS + "(NES)", 1212, 887, 19, { anchor: "middle" });
  txt(MINUS + "log(FDR.q.val + 1e" + MINUS + "08)", 1075, 908, 13);
  var lx = [1236, 1271, 1317.5], tx = [1248, 1284, 1331];
  gLegend.forEach(function(v, i) {
    g.append("circle").attr("cx", lx[i]).attr("cy", 903).attr("r", size(v)).attr("fill", "#3a78c4");
    txt(String(v), tx[i], 909.5, 18);
  });
})();

// ---- H ----
(function() {
  var g = svg.append("g");
  var x = d3.scaleLinear().domain([-2130, 48170]).range([66.6, 468]);
  var y = d3.scaleLinear().domain([-4.78, 3.88]).range([1109, 935]);
  g.append("line").attr("x1", 66.6).attr("x2", 468).attr("y1", y(0)).attr("y2", y(0))
    .attr("stroke", "#111").attr("stroke-width", 1.6).attr("stroke-dasharray", "6,4");
  // gene label leaders: [text anchor rank, text anchor logFC, line end rank, line end logFC]
  var lab = [[3308, -2.67, 3058, -2.67], [2870, -4.06, 4373, -3.93], [17970, -3.07, 19323, -2.86], [19160, -1.99, 21604, -1.63]];
  hGenes.forEach(function(s, i) {
    g.append("line").attr("x1", x(hGeneRank[i])).attr("y1", y(hGeneFC[i])).attr("x2", x(lab[i][2])).attr("y2", y(lab[i][3]))
      .attr("stroke", "#999").attr("stroke-width", 1.1);
    txt(s, x(lab[i][0]), y(lab[i][1]) + 5, 14, { fill: DARKBLUE });
  });
  g.append("path").datum(d3.zip(hRank, hLogFC))
    .attr("d", d3.line().x(function(d) { return x(d[0]); }).y(function(d) { return y(d[1]); }).curve(d3.curveMonotoneX))
    .attr("fill", "none").attr("stroke", "#000").attr("stroke-width", 3.5);
  g.selectAll(null).data(d3.zip(hOutRank, hOutFC)).enter().append("circle")
    .attr("cx", function(d) { return x(d[0]); }).attr("cy", function(d) { return y(d[1]); }).attr("r", 1.6).attr("fill", "#000");
  g.append("rect").attr("x", 66.6).attr("y", 935).attr("width", 401.4).attr("height", 174)
    .attr("fill", "none").attr("stroke", "#777").attr("stroke-width", 1.2);
  var ya = g.append("g").attr("transform", "translate(66.6,0)")
    .call(d3.axisLeft(y).tickValues([-4, -2, 0, 2]).tickSize(4).tickPadding(3).tickFormat(d3.format("d")));
  ya.select(".domain").remove(); styleAxis(ya, 18, "#333", 1.1);
  var xa = g.append("g").attr("transform", "translate(0,1109)")
    .call(d3.axisBottom(x).tickValues([0, 10000, 20000, 30000, 40000]).tickSize(4).tickPadding(3).tickFormat(d3.format("d")));
  xa.select(".domain").remove(); styleAxis(xa, 18, "#333", 1.1);
  txt("H3K9ac", 268, 961, 22, { anchor: "middle" });
  txt("Rank", 268, 1149, 18, { anchor: "middle" });
  ylab("logFC", 29, 1020, 19);
})();

// ---- I ----
bars({ cats: dwCats, mean: iMean, sd: iSd, pts: iPts, colors: [BLUE, RED],
  ax: 541.8, axEnd: 633.6, c0: 578.5, c1: 610.6, top: 965, bot: 1123.3, max: 4, ticks: [0, 1, 2, 3, 4],
  bw: 21, r: 4.2, fs: 17, sfs: 19, noXLabels: true, dotBase: true, sig: [[0, 1, 3.47, "***"]],
  title: "H3K9ac", tx: 592, ty: 940, tfs: 18, ylab: "% of Input", yx: 526, ycy: 1041, yfs: 19 });
txt("MYC", 594, 1142, 19, { anchor: "middle", italic: true });
svg.append("circle").attr("cx", 637).attr("cy", 1028).attr("r", 4.5).attr("fill", BLUE);
svg.append("circle").attr("cx", 637).attr("cy", 1057).attr("r", 4.5).attr("fill", RED);
txt("DMSO", 652, 1035, 19);
txt("WM-1119", 652, 1064, 19);

// ---- J ----
gsea({ x0: 793.5, x1: 1057.5, yTop: 973, yEs: 1090, yStrip: 1112, yBot: 1135, dom: [-0.037, 0.5],
  ticks: [0, 0.1, 0.2, 0.3, 0.4], show: [0, 0.2, 0.4], rx: jLX, es: jLES, hits: jLHits, color: RED,
  title: "WM-1119.K9ac.up.genes", tx: 916, ty: 965,
  lines: [nomP + "0", "FDR: 0", "ES: 0.4806", "Normalized ES: 2.2569"], align: "end", lx: 1050, ly: [989, 1009, 1029, 1049],
  labL: "WM1119", labR: "DMSO", ylab: "Enrichment score", yx: 768, ycy: 1031 });
gsea({ x0: 1096, x1: 1360, yTop: 973, yEs: 1090, yStrip: 1112, yBot: 1135, dom: [-0.365, 0.18],
  ticks: [0.1, 0, -0.1, -0.2, -0.3], show: [0.1, -0.1, -0.3], rx: jRX, es: jRES, hits: jRHits, color: BLUE,
  title: "WM-1119.K9ac.down.genes", tx: 1237, ty: 965,
  lines: [nomP + "0", "FDR: 6e" + MINUS + "04", "ES: " + MINUS + "0.3483", "Normalized ES: " + MINUS + "1.6629"], align: "start", lx: 1099, ly: [1032, 1052, 1071, 1090],
  labL: "WM1119", labR: "DMSO" });

// ---- K ----
var kColors = [BLUE, RED, DGRAY, PURPLE, LGRAY, LPURPLE];
var kCommon = { cats: kCats, colors: kColors, bw: 20, r: 4.2, fs: 20, xfs: 19, sfs: 14, tfs: 19,
  ylab: "Number of colonies", ycy: 1333, yfs: 19.5 };
function withK(o) { return Object.assign({}, kCommon, o); }
bars(withK({ mean: k010Mean, sd: k010Sd, pts: k010Pts, ax: 96, axEnd: 309, c0: 119.6, c1: 285.7,
  top: 1243.3, bot: 1428.3, max: 60, ticks: [0, 20, 40, 60],
  stars: [[1, 20.5, "***"], [2, 9.5, "***"], [3, 9.5, "***"], [4, 29.7, "***"], [5, 10.2, "***"]],
  brk: [[1, 3, 37, 33.5, 33.5, "*"], [4, 5, 37, 33, 33, "**"]],
  title: "AML_010 (MLL-r)", tx: 203, ty: 1210, yx: 57 }));
bars(withK({ mean: k6457Mean, sd: k6457Sd, pts: k6457Pts, ax: 379.5, axEnd: 590, c0: 402.7, c1: 567.9,
  top: 1243.3, bot: 1426.7, max: 80, ticks: [0, 20, 40, 60, 80],
  stars: [[1, 40.9, "***"], [2, 40.9, "***"], [3, 32.3, "***"], [4, 55, "**"], [5, 45.4, "***"]],
  brk: [[4, 5, 65, 59.6, 59.6, "*"]],
  title: "AML_6457 (MLL-r)", tx: 485, ty: 1210, yx: 341 }));
bars(withK({ mean: k7050Mean, sd: k7050Sd, pts: k7050Pts, ax: 702.6, axEnd: 914, c0: 726, c1: 891.6,
  top: 1243.3, bot: 1427.3, max: 300, ticks: [0, 100, 200, 300], bw: 21, ref: 225.5,
  stars: [[2, 132.6, "***", 19], [3, 88, "***", 19], [4, 305, "n.s.", 15], [5, 306.5, "n.s.", 15]],
  brk: [[1, 3, 292, 268, 226, "***", 19]],
  title: "AML_7050 (MLL-WT)", tx: 809.5, ty: 1207, yx: 653 }));
bars(withK({ mean: k7052Mean, sd: k7052Sd, pts: k7052Pts, ax: 994, axEnd: 1200.7, c0: 1016, c1: 1178.8,
  top: 1245.7, bot: 1424.3, max: 178, ticks: [0, 50, 100, 150], bw: 21, ref: 87.3,
  stars: [[2, 58, "**", 15], [3, 33.5, "***", 15], [4, 100, "n.s.", 14], [5, 123, "n.s.", 14]],
  brk: [[1, 3, 176.4, 168.7, 132, "***", 15]],
  title: "AML_7052 (MLL-WT)", tx: 1098.6, ty: 1210, yx: 947, ycy: 1332 }));
kLegend.forEach(function(s, i) { txt(s, 1227.4, 1291 + i * 23.9, 19); });

// ---- L ----
bars({ cats: dwCats, mean: l010Mean, sd: l010Sd, pts: l010Pts, colors: [BLUE, RED],
  ax: 96.7, axEnd: 185, c0: 126, c1: 169, top: 1565, bot: 1730.7, max: 1.5, ticks: [0, 0.5, 1, 1.5],
  fmt: d3.format(".1f"), bw: 26.7, r: 4.5, fs: 19, xfs: 16.5, xoff: 15, sfs: 16, sig: [[0, 1, 1.228, "*"]],
  title: "AML_010", tx: 143, ty: 1538, tfs: 18, ylab: "Relative expression", yx: 56, ycy: 1646, yfs: 18 });
txt("MYC", 151, 1569, 19, { anchor: "middle", italic: true });
bars({ cats: dwCats, mean: l6457Mean, sd: l6457Sd, pts: l6457Pts, colors: [BLUE, RED],
  ax: 280, axEnd: 380, c0: 308.3, c1: 350.7, top: 1565, bot: 1730, max: 1.5, ticks: [0, 0.5, 1, 1.5],
  fmt: d3.format(".1f"), bw: 27, r: 4.5, fs: 19, xfs: 16.5, xoff: 15, sfs: 16, sig: [[0, 1, 1.18, "**"]],
  title: "AML_6457", tx: 328, ty: 1538, tfs: 18, ylab: "Relative expression", yx: 239, ycy: 1646, yfs: 18 });
txt("MYC", 332.7, 1569, 19, { anchor: "middle", italic: true });
</script>
</body>
</html>
